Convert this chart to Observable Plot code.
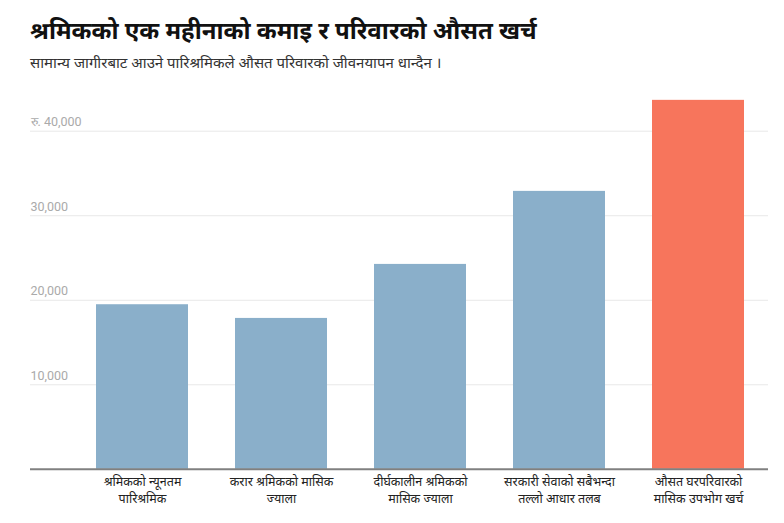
<!DOCTYPE html>
<html>
<head>
<meta charset="utf-8">
<script src="https://cdn.jsdelivr.net/npm/d3@7"></script>
<script src="https://cdn.jsdelivr.net/npm/@observablehq/plot@0.6"></script>
<style>
  html, body { margin: 0; padding: 0; background: #fff; }
  body { width: 784px; height: 523px; overflow: hidden; font-family: "Noto Sans", Roboto, sans-serif; }
  #head { height: 80px; box-sizing: border-box; padding-left: 30px; padding-top: 13px; }
  #title { font-size: 24px; font-weight: bold; color: #111; line-height: 34px; margin: 0; }
  #subtitle { font-size: 15px; color: #333; line-height: 20px; margin: 5px 0 0 0; }
  #chart svg { display: block; }
</style>
</head>
<body>
<div id="head">
  <div id="title">श्रमिकको एक महीनाको कमाइ र परिवारको औसत खर्च</div>
  <div id="subtitle">सामान्य जागीरबाट आउने पारिश्रमिकले औसत परिवारको जीवनयापन धान्दैन ।</div>
</div>
<div id="chart"></div>
<script>
const categories = [
  "श्रमिकको न्यूनतम\nपारिश्रमिक",
  "करार श्रमिकको मासिक\nज्याला",
  "दीर्घकालीन श्रमिकको\nमासिक ज्याला",
  "सरकारी सेवाको सबैभन्दा\nतल्लो आधार तलब",
  "औसत घरपरिवारको\nमासिक उपभोग खर्च"
];
const values = [19470, 17850, 24240, 32880, 43650];
const highlight = [false, false, false, false, true];
const yTicks = [10000, 20000, 30000, 40000];
const yTickLabels = ["10,000", "20,000", "30,000", "रु. 40,000"];

const data = categories.map((c, i) => ({category: c, value: values[i], hi: highlight[i]}));
const ticks = yTicks.map((t, i) => ({value: t, label: yTickLabels[i]}));

const chart = Plot.plot({
  width: 784,
  height: 443,
  marginLeft: 30,
  marginRight: 16,
  marginTop: 0,
  marginBottom: 54,
  style: {fontFamily: "Noto Sans, Roboto, sans-serif", background: "#fff"},
  x: {domain: categories, range: [95, 744], paddingInner: 0.34, paddingOuter: 0, axis: null},
  y: {domain: [0, 40000], range: [388.8, 50.7], axis: null},
  marks: [
    Plot.ruleY(yTicks, {stroke: "#e8e8e8", strokeWidth: 1}),
    Plot.text(ticks, {y: "value", text: "label", frameAnchor: "left", textAnchor: "start", lineAnchor: "bottom", dy: -5, fill: "#aaaaaa", fontSize: 12.5, fontFamily: "Roboto, sans-serif"}),
    Plot.barY(data, {x: "category", y: "value", fill: d => d.hi ? "#f7755c" : "#8aafca"}),
    Plot.ruleY([0], {stroke: "#808080", strokeWidth: 2}),
    Plot.text(data, {x: "category", y: 0, text: "category", lineAnchor: "top", dy: 5, fill: "#222", fontSize: 12.5, lineHeight: 1.32})
  ]
});
document.getElementById("chart").appendChild(chart);
</script>
</body>
</html>
